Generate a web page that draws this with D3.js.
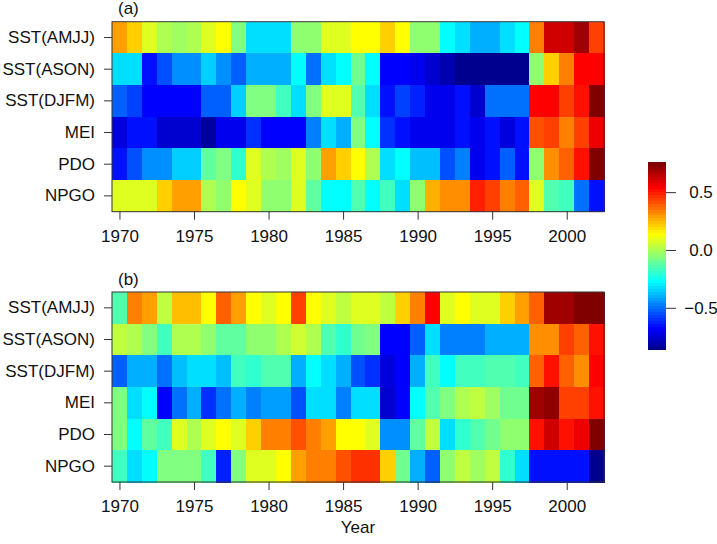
<!DOCTYPE html>
<html>
<head>
<meta charset="utf-8">
<script src="https://cdn.jsdelivr.net/npm/d3@7"></script>
<style>
  body { margin: 0; background: #fff; }
  text { font-family: "Liberation Sans", Arial, Helvetica, sans-serif; fill: #111; }
</style>
</head>
<body>
<svg id="chart" width="717" height="544"></svg>
<script>
// ---- data ----
const years = [1970, 1971, 1972, 1973, 1974, 1975, 1976, 1977, 1978, 1979, 1980,
  1981, 1982, 1983, 1984, 1985, 1986, 1987, 1988, 1989, 1990, 1991, 1992, 1993,
  1994, 1995, 1996, 1997, 1998, 1999, 2000, 2001, 2002];
const rowNames = ["SST(AMJJ)", "SST(ASON)", "SST(DJFM)", "MEI", "PDO", "NPGO"];
const yearTicks = [1970, 1975, 1980, 1985, 1990, 1995, 2000];
const legendTicks = [-0.5, 0, 0.5];
const zlim = [-0.865, 0.758];

// panel (a)
const aAMJJ = [0.28, 0.22, 0.08, 0.02, -0.02, 0.02, 0.08, 0.14, -0.06, -0.33, -0.33, -0.33, -0.05, -0.03, 0.08, 0.08, 0.14, 0.14, 0.22, 0.14, -0.05, -0.05, -0.26, -0.33, -0.39, -0.39, -0.33, -0.26, 0.35, 0.62, 0.62, 0.70, 0.45];
const aASON = [-0.33, -0.33, -0.64, -0.55, -0.45, -0.45, -0.35, -0.45, -0.52, -0.39, -0.39, -0.39, -0.26, -0.49, -0.33, -0.27, -0.10, -0.27, -0.68, -0.68, -0.69, -0.75, -0.80, -0.86, -0.86, -0.86, -0.86, -0.86, -0.05, 0.22, 0.33, 0.55, 0.55];
const aDJFM = [-0.52, -0.57, -0.68, -0.68, -0.68, -0.68, -0.52, -0.52, -0.35, -0.06, -0.06, -0.18, -0.33, -0.06, 0.08, 0.08, -0.14, -0.31, -0.64, -0.58, -0.62, -0.69, -0.69, -0.66, -0.76, -0.50, -0.50, -0.50, 0.53, 0.53, 0.45, 0.52, 0.75];
const aMEI = [-0.72, -0.64, -0.64, -0.75, -0.75, -0.75, -0.82, -0.71, -0.71, -0.60, -0.67, -0.67, -0.67, -0.47, -0.33, -0.39, -0.06, -0.26, -0.60, -0.64, -0.69, -0.69, -0.69, -0.66, -0.69, -0.65, -0.72, -0.65, 0.41, 0.45, 0.33, 0.43, 0.56];
const aPDO = [-0.66, -0.55, -0.45, -0.45, -0.35, -0.35, -0.12, -0.06, -0.20, 0.08, 0.02, -0.02, 0.08, -0.05, 0.28, 0.22, 0.14, 0.02, -0.33, -0.26, -0.37, -0.37, -0.55, -0.47, -0.69, -0.64, -0.52, -0.64, -0.05, 0.31, 0.38, 0.52, 0.75];
const aNPGO = [0.08, 0.08, 0.08, 0.22, 0.28, 0.28, 0.02, -0.05, 0.14, 0.08, -0.05, -0.05, 0.08, -0.12, -0.26, -0.26, -0.14, -0.26, -0.18, -0.33, -0.05, 0.27, 0.32, 0.32, 0.50, 0.43, 0.33, 0.38, 0.08, -0.14, -0.17, -0.50, -0.64];

// panel (b)
const bAMJJ = [-0.14, 0.34, 0.28, 0.04, 0.23, 0.23, 0.14, 0.38, 0.28, 0.14, 0.08, 0.14, 0.45, 0.14, 0.08, 0.04, 0.08, 0.08, 0.04, 0.22, 0.34, 0.53, 0.08, 0.14, 0.08, 0.08, 0.22, 0.28, 0.38, 0.69, 0.69, 0.75, 0.75];
const bASON = [0.04, 0.00, -0.06, -0.16, 0.02, 0.02, -0.05, -0.12, -0.12, -0.05, -0.05, 0.00, 0.06, 0.00, -0.14, -0.20, -0.10, -0.06, -0.68, -0.68, -0.52, -0.33, -0.47, -0.47, -0.47, -0.39, -0.39, -0.39, 0.32, 0.32, 0.45, 0.38, 0.52];
const bDJFM = [-0.52, -0.39, -0.39, -0.50, -0.37, -0.33, -0.33, -0.37, -0.18, -0.20, -0.14, -0.14, -0.39, -0.26, -0.33, -0.39, -0.55, -0.60, -0.72, -0.68, -0.39, -0.18, -0.26, -0.18, -0.18, -0.14, -0.14, -0.18, 0.38, 0.52, 0.38, 0.32, 0.55];
const bMEI = [-0.06, -0.33, -0.26, -0.67, -0.50, -0.39, -0.60, -0.50, -0.39, -0.47, -0.42, -0.42, -0.55, -0.33, -0.33, -0.47, -0.31, -0.31, -0.75, -0.68, -0.26, -0.14, -0.06, 0.00, 0.04, -0.02, -0.08, -0.08, 0.69, 0.73, 0.45, 0.45, 0.52];
const bPDO = [-0.06, -0.26, -0.12, -0.16, 0.08, 0.02, 0.08, 0.14, 0.08, 0.22, 0.34, 0.34, 0.41, 0.34, 0.28, 0.14, 0.14, 0.08, -0.45, -0.45, -0.12, 0.04, -0.33, -0.20, -0.14, -0.10, -0.05, -0.05, 0.52, 0.62, 0.52, 0.56, 0.75];
const bNPGO = [-0.18, -0.33, -0.26, -0.06, -0.06, -0.06, -0.18, -0.62, -0.06, 0.08, 0.08, 0.14, 0.28, 0.34, 0.34, 0.41, 0.47, 0.47, 0.22, -0.08, -0.39, -0.52, -0.05, 0.04, -0.02, 0.04, -0.20, -0.31, -0.64, -0.64, -0.64, -0.64, -0.86];

const panels = [
  { label: "(a)", top: 21.7, rows: [aAMJJ, aASON, aDJFM, aMEI, aPDO, aNPGO] },
  { label: "(b)", top: 292, rows: [bAMJJ, bASON, bDJFM, bMEI, bPDO, bNPGO] }
];

// ---- layout ----
const left = 112, right = 604, panelH = 190;
const fontSize = "17px";
const svg = d3.select("#chart");

// 64 step jet palette (like fields::tim.colors)
const clamp = v => Math.max(0, Math.min(1, v));
const palette = d3.range(64).map(k => d3.rgb(
  255 * clamp(Math.min((k - 23) / 16, 1, (71 - k) / 16)),
  255 * clamp(Math.min((k - 7) / 16, 1, (55 - k) / 16)),
  255 * clamp(Math.min((k + 9) / 16, 1, (39 - k) / 16))
).formatHex());
const color = d3.scaleQuantize().domain(zlim).range(palette);

const x = d3.scaleBand().domain(years).range([left, right]);
const xLin = d3.scaleLinear().domain([1969.5, 2002.5]).range([left, right]);

panels.forEach(p => {
  const y = d3.scaleBand().domain(rowNames).range([p.top, p.top + panelH]);
  const g = svg.append("g");

  const cells = [];
  p.rows.forEach((vals, i) => vals.forEach((v, j) => cells.push({ row: rowNames[i], year: years[j], v })));

  g.append("g").selectAll("rect")
    .data(cells)
    .join("rect")
      .attr("x", d => x(d.year))
      .attr("y", d => y(d.row))
      .attr("width", x.bandwidth() + 0.5)
      .attr("height", y.bandwidth() + 0.5)
      .attr("fill", d => color(d.v))
      .attr("shape-rendering", "crispEdges");

  g.append("rect")
    .attr("x", left).attr("y", p.top)
    .attr("width", right - left).attr("height", panelH)
    .attr("fill", "none").attr("stroke", "#333").attr("stroke-width", 1);

  const xAxis = g.append("g")
    .attr("transform", `translate(0,${p.top + panelH})`)
    .call(d3.axisBottom(xLin).tickValues(yearTicks).tickFormat(d3.format("d")).tickSize(8).tickPadding(10));
  const yAxis = g.append("g")
    .attr("transform", `translate(${left},0)`)
    .call(d3.axisLeft(y).tickSize(8).tickPadding(9));

  [xAxis, yAxis].forEach(a => {
    a.select(".domain").remove();
    a.selectAll(".tick line").attr("stroke", "#333");
    a.selectAll("text").style("font-size", fontSize).attr("fill", "#111");
  });

  g.append("text")
    .attr("x", 118).attr("y", p.top - 7.5)
    .style("font-size", fontSize)
    .text(p.label);
});

svg.append("text")
  .attr("x", (left + right) / 2).attr("y", 533)
  .attr("text-anchor", "middle")
  .style("font-size", fontSize)
  .text("Year");

// ---- colour bar ----
const barX = 648, barW = 18, barTop = 162.3, barBottom = 350;
const zy = d3.scaleLinear().domain(zlim).range([barBottom, barTop]);
const step = (zlim[1] - zlim[0]) / palette.length;

svg.append("g").selectAll("rect")
  .data(palette)
  .join("rect")
    .attr("x", barX)
    .attr("y", (c, i) => zy(zlim[0] + (i + 1) * step))
    .attr("width", barW)
    .attr("height", (c, i) => zy(zlim[0] + i * step) - zy(zlim[0] + (i + 1) * step) + 0.4)
    .attr("fill", c => c)
    .attr("shape-rendering", "crispEdges");

const zAxis = svg.append("g")
  .attr("transform", `translate(${barX + barW},0)`)
  .call(d3.axisRight(zy).tickValues(legendTicks).tickFormat(d3.format(".1f")).tickSize(10).tickPadding(10));
zAxis.select(".domain").remove();
zAxis.selectAll(".tick line").attr("stroke", "#333");
zAxis.selectAll("text")
  .attr("text-anchor", "middle")
  .attr("x", 35)
  .style("font-size", fontSize)
  .attr("fill", "#111");
</script>
</body>
</html>
